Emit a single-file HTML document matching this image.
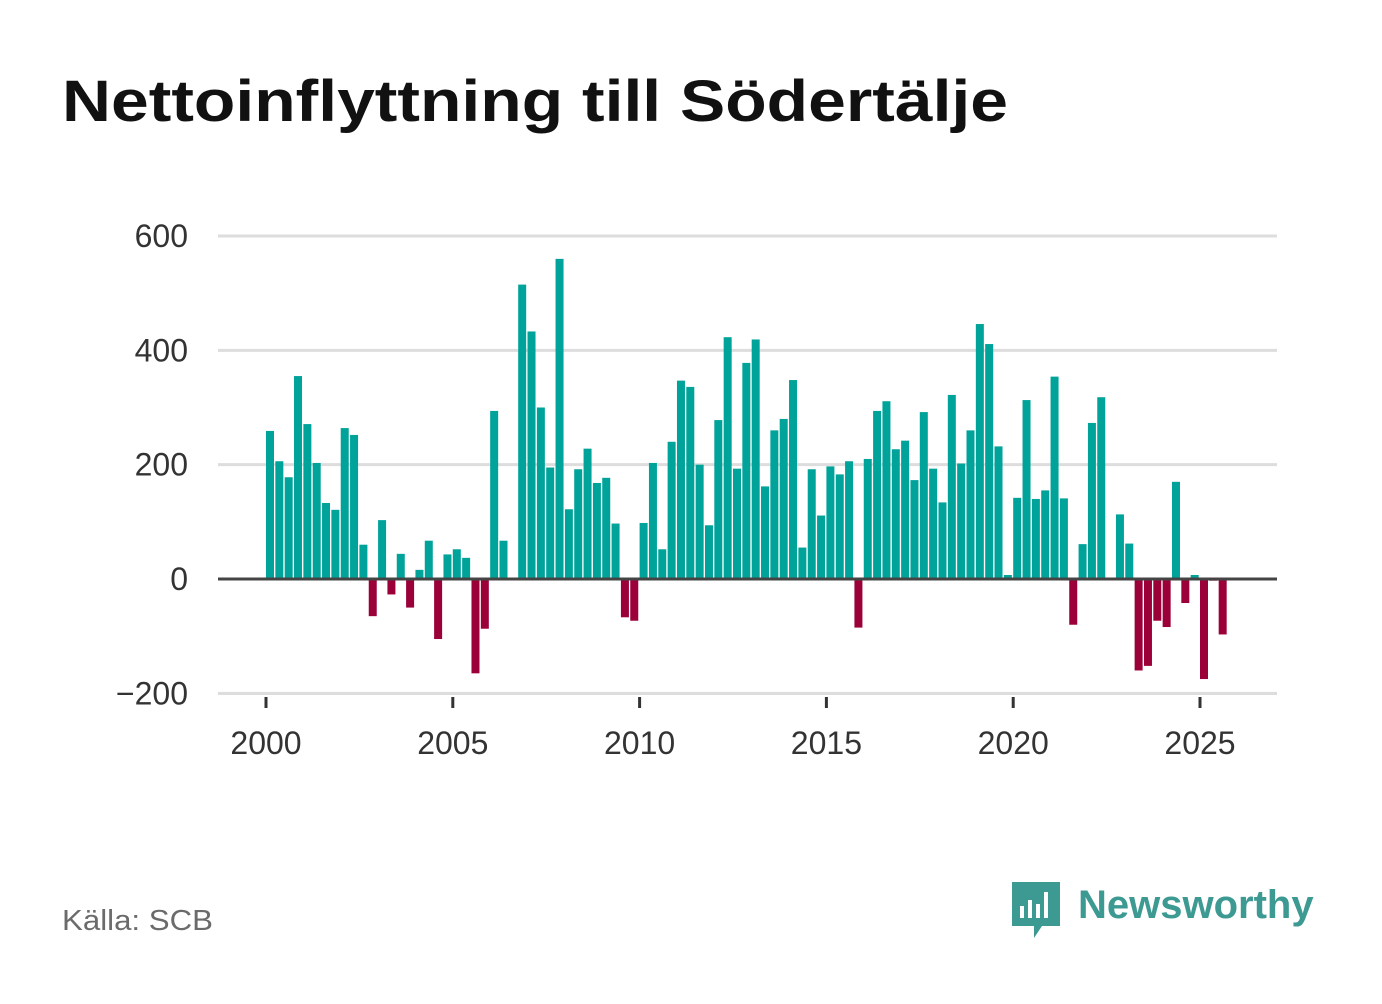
<!DOCTYPE html>
<html><head><meta charset="utf-8"><style>
body{margin:0;background:#fff;width:1382px;height:999px;overflow:hidden;font-family:"Liberation Sans",sans-serif}
</style></head><body>
<svg width="1382" height="999">
<text x="62" y="121" font-size="58" font-weight="bold" fill="#111" textLength="946" lengthAdjust="spacingAndGlyphs">Nettoinflyttning till Södertälje</text>
<g id="grid"></g><g id="bars"></g><g id="axes"></g>
<text x="62" y="930" font-size="29" fill="#6b6b6b" textLength="151" lengthAdjust="spacingAndGlyphs">Källa: SCB</text>
<g>
<path d="M1012 882h48v44h-18l-8 12v-12h-22z" fill="#3d9a92"/>
<rect x="1020" y="906" width="4" height="12" fill="#fff"/><rect x="1028" y="900" width="4" height="18" fill="#fff"/><rect x="1036" y="904" width="4" height="14" fill="#fff"/><rect x="1044" y="892" width="4" height="26" fill="#fff"/>
<text x="1078" y="918" font-size="40" font-weight="bold" fill="#3d9a92">Newsworthy</text>
</g>
</svg>
<script>
const years=[2000,2005,2010,2015,2020,2025];
const yTicks=[-200,0,200,400,600];
const yTickLabels=["−200","0","200","400","600"];
const values=[259,206,178,355,271,203,133,121,264,252,60,-65,103,-27,44,-50,16,67,-105,43,52,37,-165,-87,294,67,0,515,433,300,195,560,122,192,228,168,177,97,-67,-73,98,203,52,240,347,336,200,94,278,423,193,378,419,162,260,280,348,55,192,111,197,183,206,-85,210,294,311,227,242,173,292,193,134,322,202,260,446,411,232,7,142,313,140,155,354,141,-80,61,273,318,0,113,62,-160,-152,-73,-84,170,-42,7,-175,-3,-97];
const ns="http://www.w3.org/2000/svg";
const y=v=>579-v*(343/600);
const x=t=>266+(t-2000)*37.36;
const grid=document.getElementById('grid'),bars=document.getElementById('bars'),axes=document.getElementById('axes');
function mk(tag,attrs,parent){const e=document.createElementNS(ns,tag);for(const k in attrs)e.setAttribute(k,attrs[k]);parent.appendChild(e);return e;}
yTicks.forEach((t,i)=>{
 if(t!==0){const l=mk('line',{x1:218,x2:1277,y1:y(t),y2:y(t),stroke:'#ddd','stroke-width':3},grid);
 
 }
 const tx=mk('text',{x:188,y:y(t)+11,'font-size':32,fill:'#333','text-anchor':'end'},axes);
 tx.textContent=yTickLabels[i];
 
 
});
values.forEach((v,i)=>{
 const cx=x(2000+i/4)+4;
 const r=mk('rect',{x:cx-4,width:8,y:v>=0?y(v):y(0),height:Math.abs(y(v)-y(0)),fill:v>=0?'#00a39a':'#9b0039'},bars);
 
 
});
const z=mk('line',{x1:218,x2:1277,y1:y(0),y2:y(0),stroke:'#444','stroke-width':3},axes);


years.forEach(yr=>{
 const t=mk('line',{x1:x(yr),x2:x(yr),y1:697,y2:708,stroke:'#333','stroke-width':3},axes);
 
 
 const tx=mk('text',{x:x(yr),y:754,'font-size':32,fill:'#333','text-anchor':'middle'},axes);
 tx.textContent=yr;
 
 
});
const bl=mk('line',{x1:218,x2:1277,y1:694,y2:694,stroke:'#ddd','stroke-width':2},grid);


</script>
</body></html>
